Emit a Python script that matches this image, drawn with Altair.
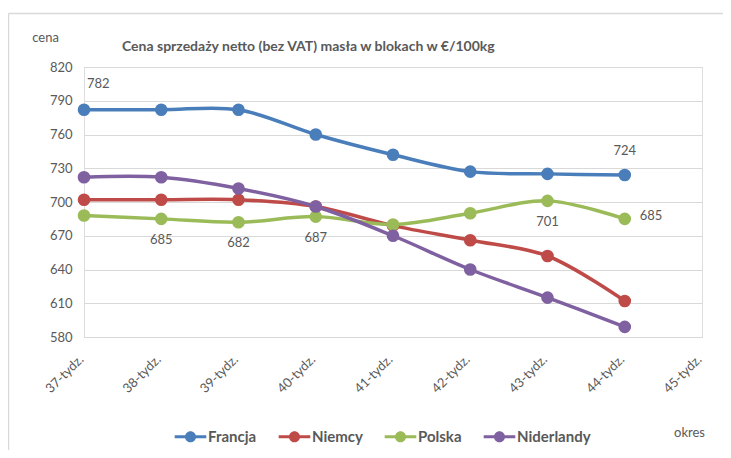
import altair as alt
import pandas as pd

weeks = ["37-tydz.", "38-tydz.", "39-tydz.", "40-tydz.", "41-tydz.", "42-tydz.", "43-tydz.", "44-tydz."]
axis_weeks = weeks + ["45-tydz."]
series = ["Francja", "Niemcy", "Polska", "Niderlandy"]
colors = ["#4A7EBB", "#BE4B48", "#9BBB59", "#7F60A0"]
marker_sizes = [160, 160, 160, 70]

francja = [782, 782, 782, 760, 742, 727, 725, 724]
niemcy = [702, 702, 702, 696, 679, 666, 652, 612]
polska = [688, 685, 682, 687, 680, 690, 701, 685]
niderlandy = [722, 722, 712, 696, 670, 640, 615, 589]
y_ticks = [580, 610, 640, 670, 700, 730, 760, 790, 820]

label_series = ["Francja", "Francja", "Polska", "Polska", "Polska", "Polska", "Polska"]
label_weeks = ["37-tydz.", "44-tydz.", "38-tydz.", "39-tydz.", "40-tydz.", "43-tydz.", "44-tydz."]
label_place = ["above_in", "above", "below", "below", "below", "below", "right"]

title_text = "Cena sprzedaży netto (bez VAT) masła w blokach w €/100kg"

FONT = "Lato"
GREY = "#595959"

rows = []
for name, vals in zip(series, [francja, niemcy, polska, niderlandy]):
    for w, v in zip(weeks, vals):
        rows.append({"seria": name, "tydzien": w, "cena": v})
df = pd.DataFrame(rows)

lab = pd.DataFrame({"seria": label_series, "tydzien": label_weeks, "miejsce": label_place})
lab = lab.merge(df, on=["seria", "tydzien"], how="left")

x_scale = alt.Scale(type="point", domain=axis_weeks, padding=0)
y_scale = alt.Scale(domain=[580, 820], nice=False, zero=False)

legend_path = ("M-2.5,-0.24 H2.5 V0.24 H-2.5 Z "
               "M0.88,0 A0.88,0.88 0 1,1 -0.88,0 A0.88,0.88 0 1,1 0.88,0 Z")

color_scale = alt.Scale(domain=series, range=colors)
color_enc = alt.Color(
    "seria:N",
    scale=color_scale,
    legend=alt.Legend(
        title=None, orient="none", direction="horizontal",
        legendX=99, legendY=362,
        symbolType=legend_path, symbolSize=185, symbolStrokeWidth=0,
        labelFont=FONT, labelFontSize=15, labelFontWeight="bold", labelColor=GREY,
        labelOffset=10, columnPadding=21,
    ),
)

x_axis = alt.Axis(
    title="okres", grid=False, domain=False, ticks=False,
    labelAngle=-45, labelAlign="right", labelBaseline="middle",
    labelPadding=20, labelOffset=-3, labelFont=FONT, labelFontSize=13, labelColor=GREY,
    titleFont=FONT, titleFontSize=13, titleFontWeight="normal", titleColor=GREY,
    titleAngle=0, titleX=605, titleY=95, titleAlign="center", titleBaseline="middle",
)
y_axis = alt.Axis(
    title="cena", values=y_ticks, grid=True, gridColor="#D9D9D9", gridWidth=1,
    domain=False, ticks=False, labelPadding=12, labelOverlap=False,
    labelFont=FONT, labelFontSize=13, labelColor=GREY,
    titleFont=FONT, titleFontSize=13, titleFontWeight="normal", titleColor=GREY,
    titleAngle=0, titleX=-39, titleY=-30, titleAlign="center", titleBaseline="middle",
)

x_enc = alt.X("tydzien:N", scale=x_scale, sort=axis_weeks, axis=x_axis)
y_enc = alt.Y("cena:Q", scale=y_scale, axis=y_axis)

base = alt.Chart(df)

lines = base.mark_line(strokeWidth=3.5, interpolate="catmull-rom").encode(
    x=x_enc, y=y_enc, color=color_enc, detail="seria:N"
)
points = base.mark_circle(opacity=1).encode(
    x=x_enc, y=y_enc,
    color=alt.Color("seria:N", scale=color_scale, legend=None),
    size=alt.Size("seria:N", scale=alt.Scale(domain=series, range=marker_sizes), legend=None),
)

def labels(place, **kw):
    return alt.Chart(lab).transform_filter(alt.datum.miejsce == place).mark_text(
        font=FONT, fontSize=13, color=GREY, **kw
    ).encode(x=x_enc, y=y_enc, text="cena:Q")

lab_above_in = labels("above_in", align="left", dx=3, dy=-26)
lab_above = labels("above", dy=-24)
lab_below = labels("below", dy=21)
lab_right = labels("right", align="left", dx=15, dy=-3)

title = alt.Chart(pd.DataFrame({"t": [title_text]})).mark_text(
    font=FONT, fontSize=14, fontWeight="bold", color=GREY, align="left", baseline="middle"
).encode(x=alt.value(38), y=alt.value(-20), text="t:N")

frame_df = pd.DataFrame({"b": [0]})
border_top = alt.Chart(frame_df).mark_rule(stroke="#D9D9D9", strokeWidth=1.5).encode(
    x=alt.value(-75.5), x2=alt.value(700), y=alt.value(-53.5)
)
border_left = alt.Chart(frame_df).mark_rule(stroke="#D9D9D9", strokeWidth=1.5).encode(
    x=alt.value(-75.5), y=alt.value(-53.5), y2=alt.value(500)
)

chart = alt.layer(border_top, border_left, lines, points, lab_above_in, lab_above,
                  lab_below, lab_right, title).properties(
    width=618, height=270,
    autosize=alt.AutoSizeParams(type="none"),
    padding={"left": 76, "top": 59, "right": 21, "bottom": 113},
).configure_view(stroke=None).configure(background="white")

chart.save("out.html", embed_options={"renderer": "svg", "actions": False})
